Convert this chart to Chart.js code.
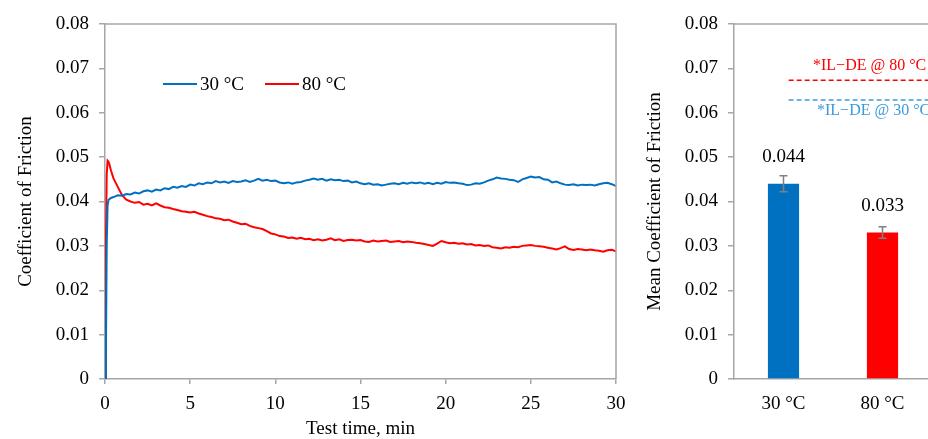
<!DOCTYPE html>
<html>
<head>
<meta charset="utf-8">
<script src="https://cdn.jsdelivr.net/npm/chart.js@4.4.1/dist/chart.umd.min.js"></script>
<style>
html,body{margin:0;padding:0;background:#fff;overflow:hidden;}
#wrap{position:relative;width:928px;height:439px;overflow:hidden;background:#fff;}
#c1{position:absolute;left:0;top:0;}
#c2{position:absolute;left:620px;top:0;}
</style>
</head>
<body>
<div id="wrap">
<canvas id="c1" width="640" height="439"></canvas>
<canvas id="c2" width="320" height="439"></canvas>
</div>
<script>
// ---------- DATA ----------
const timeMin = [0,0.05,0.1,0.15,0.2,0.25,0.35,0.5,0.75,
1,1.25,1.5,1.75, 2,2.25,2.5,2.75, 3,3.25,3.5,3.75, 4,4.25,4.5,4.75, 5,5.25,5.5,5.75,
6,6.25,6.5,6.75, 7,7.25,7.5,7.75, 8,8.25,8.5,8.75, 9,9.25,9.5,9.75, 10,10.25,10.5,10.75,
11,11.25,11.5,11.75, 12,12.25,12.5,12.75, 13,13.25,13.5,13.75, 14,14.25,14.5,14.75,
15,15.25,15.5,15.75, 16,16.25,16.5,16.75, 17,17.25,17.5,17.75, 18,18.25,18.5,18.75,
19,19.25,19.5,19.75, 20,20.25,20.5,20.75, 21,21.25,21.5,21.75, 22,22.25,22.5,22.75,
23,23.25,23.5,23.75, 24,24.25,24.5,24.75, 25,25.25,25.5,25.75, 26,26.25,26.5,26.75,
27,27.25,27.5,27.75, 28,28.25,28.5,28.75, 29,29.25,29.5,29.75, 30];

const cof30C = [0,0.004,0.030,0.039,0.0403,0.0405,0.0408,0.0410,0.0414,
0.0413,0.0417,0.0416,0.0420, 0.0418,0.0423,0.0425,0.0422, 0.0427,0.0425,0.0430,0.0428,
0.0433,0.0431,0.0435,0.0433, 0.0438,0.0436,0.0441,0.0439, 0.0443,0.0441,0.0446,0.0443,
0.0445,0.0442,0.0446,0.0444, 0.0445,0.0448,0.0444,0.0447, 0.0451,0.0447,0.0449,0.0446,
0.0447,0.0443,0.0441,0.0443, 0.0440,0.0443,0.0444,0.0447, 0.0449,0.0452,0.0449,0.0451,
0.0447,0.0450,0.0448,0.0449, 0.0446,0.0447,0.0443,0.0445, 0.0441,0.0439,0.0441,0.0438,
0.0439,0.0436,0.0438,0.0440, 0.0441,0.0439,0.0442,0.0440, 0.0443,0.0441,0.0443,0.0440,
0.0442,0.0439,0.0442,0.0440, 0.0444,0.0442,0.0443,0.0441, 0.0440,0.0437,0.0438,0.0441,
0.0440,0.0443,0.0447,0.0450, 0.0454,0.0452,0.0451,0.0449, 0.0448,0.0444,0.0450,0.0453,
0.0456,0.0454,0.0455,0.0450, 0.0449,0.0443,0.0445,0.0441, 0.0438,0.0437,0.0439,0.0436,
0.0438,0.0437,0.0438,0.0436, 0.0439,0.0441,0.0442,0.0439, 0.0435];

const cof80C = [0,0.030,0.046,0.0492,0.0490,0.0485,0.0470,0.0452,0.0433,
0.0414,0.0404,0.0400,0.0397, 0.0399,0.0393,0.0395,0.0391, 0.0396,0.0391,0.0387,0.0386,
0.0383,0.0381,0.0378,0.0377, 0.0375,0.0377,0.0373,0.0370, 0.0367,0.0365,0.0362,0.0361,
0.0358,0.0359,0.0355,0.0352, 0.0349,0.0350,0.0345,0.0342, 0.0340,0.0338,0.0333,0.0328,
0.0326,0.0322,0.0321,0.0318, 0.0319,0.0316,0.0318,0.0315, 0.0316,0.0313,0.0315,0.0312,
0.0314,0.0317,0.0313,0.0315, 0.0311,0.0313,0.0314,0.0312, 0.0313,0.0310,0.0309,0.0312,
0.0310,0.0311,0.0312,0.0309, 0.0310,0.0311,0.0308,0.0310, 0.0309,0.0307,0.0306,0.0304,
0.0302,0.0300,0.0305,0.0311, 0.0308,0.0306,0.0307,0.0305, 0.0306,0.0303,0.0304,0.0301,
0.0302,0.0300,0.0301,0.0297, 0.0296,0.0294,0.0297,0.0296, 0.0298,0.0297,0.0300,0.0301,
0.0302,0.0300,0.0299,0.0298, 0.0296,0.0294,0.0292,0.0295, 0.0299,0.0293,0.0291,0.0293,
0.0292,0.0290,0.0292,0.0290, 0.0289,0.0287,0.0290,0.0291, 0.0288];

const seriesLabels = ['30 °C', '80 °C'];
const yTicks = [0, 0.01, 0.02, 0.03, 0.04, 0.05, 0.06, 0.07, 0.08];
const xTicks = [0, 5, 10, 15, 20, 25, 30];

const barCategories = ['30 °C', '80 °C'];
const meanCoF = [0.044, 0.033];
const meanCoFErr = [0.0018, 0.0013];
const refLabels = ['*IL\u2212DE @ 80 °C', '*IL\u2212DE @ 30 °C'];
const refValues = [0.0673, 0.0629];
const refSpan = [-0.06, 1.7];

// ---------- STYLE ----------
const BLUE = '#0070C0', RED = '#FF0000', REF_BLUE = '#3A9AD9';
const AX = '#A6A6A6';
const FONT = "'Liberation Serif', 'Times New Roman', serif";
const FS = 19;
Chart.defaults.font.family = FONT;
Chart.defaults.color = '#000';

const framePlugin = {
  id: 'frame',
  afterDraw(chart, args, opts) {
    const {ctx, chartArea: a} = chart;
    ctx.save();
    ctx.strokeStyle = AX; ctx.lineWidth = 1.5;
    ctx.beginPath();
    ctx.moveTo(a.left, a.top); ctx.lineTo(a.right, a.top);
    if (opts.right) { ctx.lineTo(a.right, a.bottom); }
    ctx.stroke();
    ctx.restore();
  }
};

const legendPlugin = {
  id: 'inlineLegend',
  afterDraw(chart, args, opts) {
    const ctx = chart.ctx;
    ctx.save();
    ctx.font = FS + 'px ' + FONT;
    ctx.textBaseline = 'middle';
    chart.data.datasets.forEach((ds, i) => {
      const x = opts.xs[i], y = opts.y;
      ctx.strokeStyle = ds.borderColor; ctx.lineWidth = 2;
      ctx.beginPath(); ctx.moveTo(x, y); ctx.lineTo(x + 34, y); ctx.stroke();
      ctx.fillStyle = '#000';
      ctx.fillText(ds.label, x + 37, y + 1);
    });
    ctx.restore();
  }
};

const yAxisCommon = (title, titlePad) => ({
  min: 0, max: 0.08,
  afterBuildTicks: s => { s.ticks = yTicks.map(v => ({value: v})); },
  ticks: { font: {size: FS}, padding: 10, color: '#000',
           callback: v => (v === 0 ? '0' : v.toFixed(2)) },
  grid: { drawOnChartArea: false, drawTicks: true, tickLength: 6, color: AX, lineWidth: 1.5 },
  border: { color: AX, width: 1.5 },
  title: { display: true, text: title, font: {size: FS, lineHeight: 1.2}, padding: {top: titlePad, bottom: 0}, color: '#000' }
});

// ---------- LEFT CHART ----------
new Chart(document.getElementById('c1'), {
  type: 'line',
  data: {
    datasets: [
      { label: seriesLabels[0], data: timeMin.map((t, i) => ({x: t, y: cof30C[i]})),
        borderColor: BLUE, borderWidth: 2, pointRadius: 0, tension: 0 },
      { label: seriesLabels[1], data: timeMin.map((t, i) => ({x: t, y: cof80C[i]})),
        borderColor: RED, borderWidth: 2, pointRadius: 0, tension: 0 }
    ]
  },
  options: {
    responsive: false, animation: false, devicePixelRatio: 1,
    layout: { padding: { left: 0, right: 24, top: 24, bottom: 0 } },
    plugins: { legend: { display: false }, tooltip: { enabled: false },
               frame: { right: true }, inlineLegend: { xs: [163, 265], y: 84 } },
    scales: {
      x: {
        type: 'linear', min: 0, max: 30,
        afterBuildTicks: s => { s.ticks = xTicks.map(v => ({value: v})); },
        afterFit: s => { s.height = 60; },
        ticks: { font: {size: FS}, padding: 9, color: '#000', maxRotation: 0 },
        grid: { drawOnChartArea: false, drawTicks: true, tickLength: 5, color: AX, lineWidth: 1.5 },
        border: { color: AX, width: 1.5 },
        title: { display: true, text: 'Test time, min', font: {size: FS, lineHeight: 1}, padding: {top: 0, bottom: 0}, color: '#000' }
      },
      y: Object.assign(yAxisCommon('Coefficient of Friction', 15), { afterFit: s => { s.width = 105; } })
    }
  },
  plugins: [framePlugin, legendPlugin]
});

// ---------- RIGHT CHART ----------
const barExtras = {
  id: 'barExtras',
  afterDatasetsDraw(chart) {
    const ctx = chart.ctx, y = chart.scales.y;
    const meta = chart.getDatasetMeta(0);
    ctx.save();
    meta.data.forEach((bar, i) => {
      const top = y.getPixelForValue(meanCoF[i] + meanCoFErr[i]);
      const bot = y.getPixelForValue(meanCoF[i] - meanCoFErr[i]);
      ctx.strokeStyle = '#808080'; ctx.lineWidth = 1.5;
      ctx.beginPath();
      ctx.moveTo(bar.x, top); ctx.lineTo(bar.x, bot);
      ctx.moveTo(bar.x - 4, top); ctx.lineTo(bar.x + 4, top);
      ctx.moveTo(bar.x - 4, bot); ctx.lineTo(bar.x + 4, bot);
      ctx.stroke();
      ctx.fillStyle = '#000';
      ctx.font = FS + 'px ' + FONT;
      ctx.textAlign = 'center'; ctx.textBaseline = 'middle';
      ctx.fillText(meanCoF[i].toFixed(3), bar.x, bar.y - 27);
    });
    // reference labels
    ctx.font = '16px ' + FONT;
    ctx.textAlign = 'left'; ctx.textBaseline = 'middle';
    ctx.fillStyle = RED;
    ctx.fillText(refLabels[0], 193, y.getPixelForValue(refValues[0]) - 15);
    ctx.fillStyle = REF_BLUE;
    ctx.fillText(refLabels[1], 197, y.getPixelForValue(refValues[1]) + 11);
    ctx.restore();
  }
};

new Chart(document.getElementById('c2'), {
  type: 'bar',
  data: {
    labels: barCategories,
    datasets: [
      { type: 'bar', data: meanCoF, backgroundColor: [BLUE, RED], borderWidth: 0, grouped: false,
        categoryPercentage: 1, barPercentage: 0.315, xAxisID: 'x', order: 2 },
      { type: 'line', data: refSpan.map(x => ({x, y: refValues[0]})), xAxisID: 'xl',
        borderColor: RED, borderWidth: 1.5, borderDash: [5, 3], pointRadius: 0, order: 1 },
      { type: 'line', data: refSpan.map(x => ({x, y: refValues[1]})), xAxisID: 'xl',
        borderColor: REF_BLUE, borderWidth: 1.5, borderDash: [5, 3], pointRadius: 0, order: 1 }
    ]
  },
  options: {
    responsive: false, animation: false, devicePixelRatio: 1,
    layout: { padding: { left: 0, right: 8, top: 24, bottom: 0 } },
    plugins: { legend: { display: false }, tooltip: { enabled: false }, frame: { right: false } },
    scales: {
      x: {
        type: 'category', offset: true,
        afterFit: s => { s.height = 60; },
        ticks: { font: {size: FS}, padding: 14, color: '#000', maxRotation: 0 },
        grid: { display: false, drawTicks: false },
        border: { color: AX, width: 1.5 }
      },
      xl: { type: 'linear', min: -0.5, max: 1.5, display: false },
      y: Object.assign(yAxisCommon('Mean Coefficient of Friction', 24), { afterFit: s => { s.width = 114; } })
    }
  },
  plugins: [framePlugin, barExtras]
});
</script>
</body>
</html>
